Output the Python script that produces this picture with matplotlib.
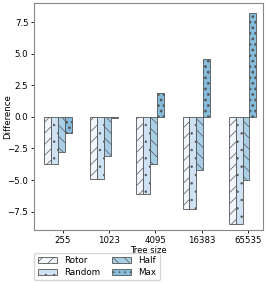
import numpy as np
import matplotlib
matplotlib.use("Agg")
import matplotlib.pyplot as plt

# 数据
tree_sizes = ["255", "1023", "4095", "16383", "65535"]
rotor = [-3.7, -4.9, -6.1, -7.3, -8.5]
random_ = [-3.7, -4.9, -6.1, -7.3, -8.5]
half = [-2.8, -3.1, -3.75, -4.2, -5.0]
maxv = [-1.3, -0.12, 1.85, 4.6, 8.2]

series = [("Rotor", rotor), ("Random", random_), ("Half", half), ("Max", maxv)]
colors = ["#f0f6fc", "#cfe2f3", "#a9cfe6", "#86bddd"]
hatches = ["///", "..", "\\\\\\", "..."]

plt.rcParams["hatch.linewidth"] = 0.5
plt.rcParams["hatch.color"] = "#444444"
fig = plt.figure(figsize=(2.7, 2.83), dpi=100)
ax = fig.add_axes([0.126, 0.187, 0.848, 0.802])

x = np.arange(len(tree_sizes))
w = 0.15
for i, (name, vals) in enumerate(series):
    bars = ax.bar(x + (i - 2.25) * w, vals, w, color=colors[i], hatch=hatches[i],
                  edgecolor="#555555", linewidth=0.6, label=name)
    if name == "Max":
        for b in bars:
            try:
                b.set_hatch_linewidth(1.2)
            except AttributeError:
                pass

ax.set_xlim(-0.63, 4.33)
ax.set_ylim(-8.96, 9.0)
ax.set_yticks([-7.5, -5.0, -2.5, 0.0, 2.5, 5.0, 7.5])
ax.set_xticks(x)
ax.set_xticklabels(tree_sizes)
ax.tick_params(labelsize=6.2, length=2, width=0.6, pad=2)
ax.set_xlabel("Tree size", fontsize=6, labelpad=1)
ax.set_ylabel("Difference", fontsize=6.2)
ax.yaxis.set_label_coords(-0.095, 0.5)
for s in ax.spines.values():
    s.set_color("#888888")
    s.set_linewidth(0.8)

leg = ax.legend(loc="upper left", bbox_to_anchor=(0.0, -0.1), ncol=2, fontsize=6.3,
                frameon=True, handlelength=2.2, handleheight=0.7, columnspacing=1.4,
                borderaxespad=0, labelspacing=0.3, borderpad=0.4)

fig.savefig("out.png", dpi=100)
